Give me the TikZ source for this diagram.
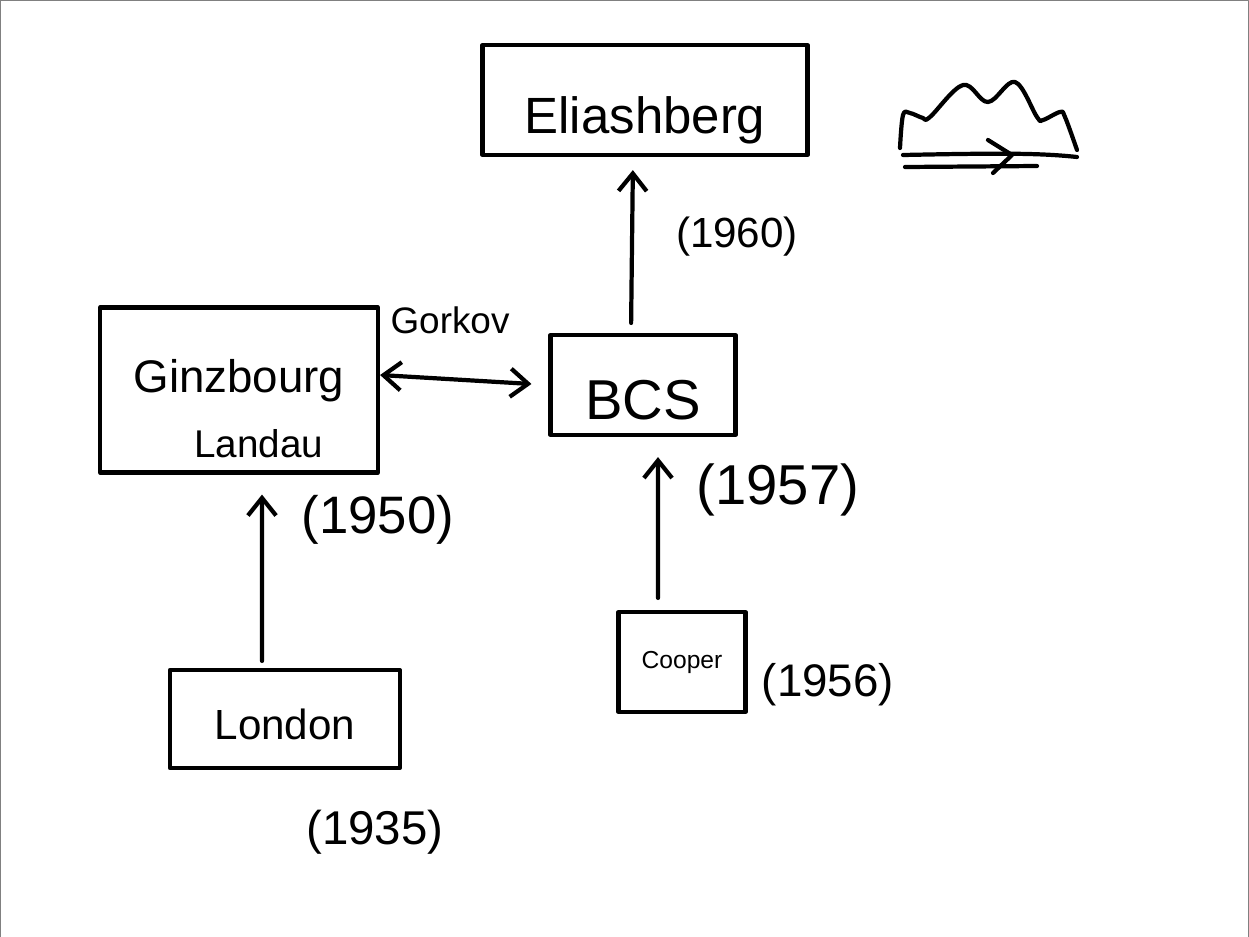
\documentclass[tikz,border=0pt]{standalone}
\usepackage{fontspec}
\setmainfont{Liberation Sans}
\usetikzlibrary{positioning,arrows.meta}

\begin{document}
\begin{tikzpicture}[
      x=0.02cm, y=-0.02cm,
      line width=2.4pt, line cap=round, line join=round,
      box/.style={draw, rectangle, inner sep=0pt, align=center},
      year/.style={font=\fontsize{26}{30}\selectfont},
      arrow/.style={-{Straight Barb[length=10pt,width=16pt]}},
      twoway/.style={{Straight Barb[length=10pt,width=16pt]}-{Straight Barb[length=10pt,width=16pt]}},
    ]
    \useasboundingbox (0,0) rectangle (1249,937);
    \draw[gray, line width=0.8pt] (0.4,937) -- (0.4,0.4) -- (1248.6,0.4) -- (1248.6,937);

    \node[box, minimum width=6.5cm, minimum height=2.2cm, font=\fontsize{29}{34}\selectfont] (elias) at (645,100) {\rule{0pt}{44pt}Eliashberg};
    \node[box, minimum width=5.56cm, minimum height=3.3cm, font=\fontsize{26}{37}\selectfont] (gl) at (239,390)
      {\rule{0pt}{40pt}Ginzbourg\\{\fontsize{22}{26}\selectfont\hspace*{0.8cm}Landau}};
    \node[box, minimum width=3.7cm, minimum height=2cm, font=\fontsize{32}{36}\selectfont] (bcs) at (643,385) {\rule{0pt}{40pt}BCS};
    \node[box, minimum width=4.6cm, minimum height=1.96cm, font=\fontsize{24}{28}\selectfont] (london) at (285,719) {\rule{0pt}{24pt}London};
    \node[box, minimum width=2.54cm, minimum height=2cm, font=\fontsize{14}{16}\selectfont] (cooper) at (682,662) {Cooper};

    \draw[arrow, shorten <=0.14cm, shorten >=0.4cm] ([xshift=-0.46cm]london.north) -- ([xshift=0.46cm]gl.south);
    \draw[arrow, shorten <=0.2cm, shorten >=0.26cm] ([xshift=-0.24cm]bcs.north) -- ([xshift=-0.24cm]elias.south);
    \draw[arrow, shorten <=0.24cm, shorten >=0.4cm] ([xshift=-0.48cm]cooper.north) -- ([xshift=0.3cm]bcs.south);
    \draw[twoway, shorten >=0.34cm] ([yshift=0.3cm]gl.east) -- (bcs.west);

    \node[font=\fontsize{21}{24}\selectfont] (gorkov) at (450,320) {Gorkov};
    \node[year, font=\fontsize{24}{28}\selectfont] (y1960) at (737,237) {(1960)};
    \node[year, font=\fontsize{30}{34}\selectfont] (y1950) at (378,520) {(1950)};
    \node[year, font=\fontsize{32}{36}\selectfont] (y1957) at (778,490) {(1957)};
    \node[year] (y1956) at (828,685) {(1956)};
    \node[year, font=\fontsize{27}{30}\selectfont] (y1935) at (375,832) {(1935)};

    % spectrum sketch
    \draw plot[smooth, tension=0.6] coordinates {(900,148) (903,115) (910,113) (923,118) (930,117)
      (963,85) (988,102) (1015,82) (1037,117) (1043,120) (1060,112) (1065,117) (1077,150)};
    \draw (903,155) .. controls (1000,153) and (1040,153) .. (1077,157);
    \draw (905,167) -- (1037,166);
    \draw (988,140) -- (1012,155) -- (993,173);
  \end{tikzpicture}
\end{document}
